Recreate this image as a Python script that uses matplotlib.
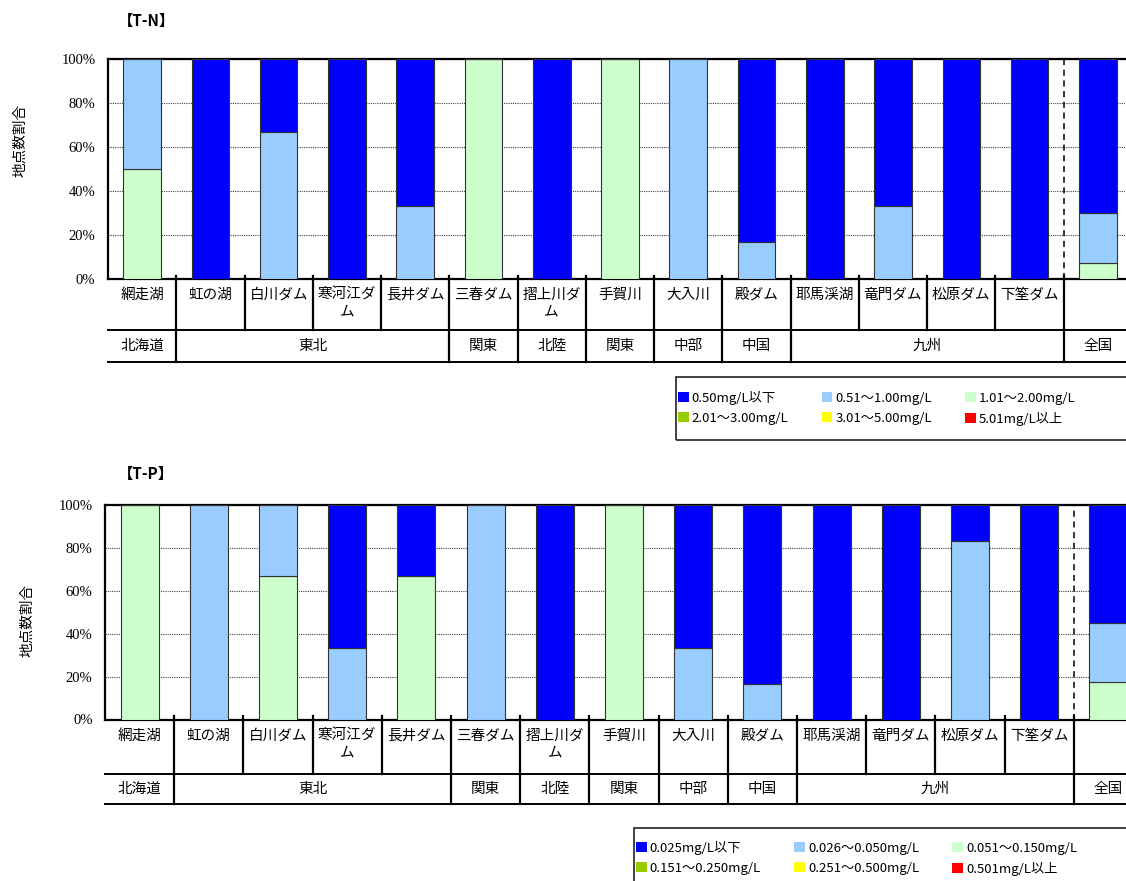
import matplotlib
matplotlib.use('Agg')
import matplotlib.pyplot as plt
import matplotlib.transforms as mtransforms
from matplotlib.patches import Patch, Rectangle

plt.rcParams['font.family'] = ['Noto Sans CJK JP', 'DejaVu Sans']

W, H = 1126, 881

lakes = ['網走湖', '虹の湖', '白川ダム', '寒河江ダ\nム', '長井ダム', '三春ダム', '摺上川ダ\nム',
         '手賀川', '大入川', '殿ダム', '耶馬渓湖', '竜門ダム', '松原ダム', '下筌ダム', '']
regions = ['北海道', '東北', '関東', '北陸', '関東', '中部', '中国', '九州', '全国']
region_first = [0, 1, 5, 6, 7, 8, 9, 10, 14]
region_last = [0, 4, 5, 6, 7, 8, 9, 13, 14]

colors = ['#0000FF', '#99CCFF', '#CCFFCC', '#99CC00', '#FFFF00', '#FF0000']

# T-N (%), classes from lowest concentration to highest
tn_labels = ['0.50mg/L以下', '0.51～1.00mg/L', '1.01～2.00mg/L',
             '2.01～3.00mg/L', '3.01～5.00mg/L', '5.01mg/L以上']
tn_c1 = [0, 100, 33.3, 100, 66.7, 0, 100, 0, 0, 83.3, 100, 66.7, 100, 100, 70.0]
tn_c2 = [50, 0, 66.7, 0, 33.3, 0, 0, 0, 100, 16.7, 0, 33.3, 0, 0, 22.6]
tn_c3 = [50, 0, 0, 0, 0, 100, 0, 100, 0, 0, 0, 0, 0, 0, 7.4]
tn_c4 = [0, 0, 0, 0, 0, 0, 0, 0, 0, 0, 0, 0, 0, 0, 0]
tn_c5 = [0, 0, 0, 0, 0, 0, 0, 0, 0, 0, 0, 0, 0, 0, 0]
tn_c6 = [0, 0, 0, 0, 0, 0, 0, 0, 0, 0, 0, 0, 0, 0, 0]

# T-P (%)
tp_labels = ['0.025mg/L以下', '0.026～0.050mg/L', '0.051～0.150mg/L',
             '0.151～0.250mg/L', '0.251～0.500mg/L', '0.501mg/L以上']
tp_c1 = [0, 0, 0, 66.7, 33.3, 0, 100, 0, 66.7, 83.3, 100, 100, 16.7, 100, 55.1]
tp_c2 = [0, 100, 33.3, 33.3, 0, 100, 0, 0, 33.3, 16.7, 0, 0, 83.3, 0, 27.6]
tp_c3 = [100, 0, 66.7, 0, 66.7, 0, 0, 100, 0, 0, 0, 0, 0, 0, 17.3]
tp_c4 = [0, 0, 0, 0, 0, 0, 0, 0, 0, 0, 0, 0, 0, 0, 0]
tp_c5 = [0, 0, 0, 0, 0, 0, 0, 0, 0, 0, 0, 0, 0, 0, 0]
tp_c6 = [0, 0, 0, 0, 0, 0, 0, 0, 0, 0, 0, 0, 0, 0, 0]


def rect(l, t, r, b):
    return [l / W, 1 - b / H, (r - l) / W, (b - t) / H]


def panel(fig, box, series, labels, title, title_xy, ylab_xy, row1, row2, leg_box, leg_xy):
    ax = fig.add_axes(rect(*box))
    h = box[3] - box[1]
    x = list(range(len(lakes)))

    # stack from the highest class at the bottom up to the lowest class
    bottom = [0] * len(x)
    for k in range(5, -1, -1):
        vals = series[k]
        ax.bar(x, vals, 0.55, bottom=bottom, color=colors[k],
               edgecolor='#333333', linewidth=0.8, zorder=3)
        bottom = [b + v for b, v in zip(bottom, vals)]

    ax.set_xlim(-0.5, len(x) - 0.5)
    ax.set_ylim(0, 100)
    ax.set_yticks([0, 20, 40, 60, 80, 100])
    ax.set_yticklabels(['0%', '20%', '40%', '60%', '80%', '100%'])
    for lbl in ax.get_yticklabels():
        lbl.set_fontfamily('Liberation Serif')
        lbl.set_fontsize(10.5)
    ax.set_xticks([])
    ax.tick_params(axis='y', length=0, pad=9)
    ax.yaxis.grid(True, linestyle=(0, (1, 1)), color='#444444', linewidth=0.8, zorder=0)
    for s in ['left', 'top', 'bottom']:
        ax.spines[s].set_linewidth(1.6)
    ax.spines['right'].set_visible(False)

    ax.axvline(13.5, color='black', linestyle=(0, (4, 3)), linewidth=1.1, zorder=4)

    # category table under the axis
    tr = mtransforms.blended_transform_factory(ax.transData, ax.transAxes)
    y1 = -row1 / h
    y2 = -row2 / h
    for yy in [y1, y2]:
        ax.plot([-0.5, len(x)], [yy, yy], color='black', linewidth=1.4,
                transform=tr, clip_on=False)
    for i in range(len(x) - 1):
        ax.plot([i + 0.5, i + 0.5], [0.015, y1], color='black', linewidth=1.6,
                transform=tr, clip_on=False)
    for last in region_last[:-1]:
        ax.plot([last + 0.5, last + 0.5], [y1, y2], color='black', linewidth=1.6,
                transform=tr, clip_on=False)
    for i, name in enumerate(lakes):
        ax.text(i, -9 / h, name, transform=tr, ha='center', va='top',
                fontsize=10.5, linespacing=1.25)
    for name, a, b in zip(regions, region_first, region_last):
        ax.text((a + b) / 2, (y1 + y2) / 2, name, transform=tr, ha='center',
                va='center', fontsize=10.5)

    fig.text(title_xy[0] / W, 1 - title_xy[1] / H, title, fontsize=11,
             fontweight='bold', va='center', ha='left')
    fig.text(ylab_xy[0] / W, 1 - ylab_xy[1] / H, '地点数割合', rotation=90,
             fontsize=10.5, ha='center', va='center')

    # legend: row-wise order for ncol=3
    order = [0, 3, 1, 4, 2, 5]
    leg_h = [Patch(facecolor=colors[k], edgecolor='none') for k in order]
    leg_l = [labels[k] for k in order]
    fig.legend(leg_h, leg_l, ncol=3, loc='upper left',
               bbox_to_anchor=(leg_xy[0] / W, 1 - leg_xy[1] / H),
               frameon=False, fontsize=9.5, handlelength=0.8, handleheight=0.8,
               handletextpad=0.25, columnspacing=2.5, borderpad=0,
               borderaxespad=0, labelspacing=0.5)
    l, t, r, b = leg_box
    fig.add_artist(Rectangle((l / W, 1 - b / H), (r - l) / W, (b - t) / H,
                             transform=fig.transFigure, fill=False,
                             edgecolor='#333333', linewidth=1.3))
    return ax


fig = plt.figure(figsize=(W / 100, H / 100), dpi=100)

panel(fig, (108, 59, 1132, 279), [tn_c1, tn_c2, tn_c3, tn_c4, tn_c5, tn_c6], tn_labels,
      '【T-N】', (118, 21), (20, 140), 51, 83, (676, 377, 1135, 440), (678, 391))

panel(fig, (105, 505, 1143, 719.5), [tp_c1, tp_c2, tp_c3, tp_c4, tp_c5, tp_c6], tp_labels,
      '【T-P】', (118, 474), (27, 620), 54, 84, (634, 828, 1135, 895), (636, 841))

fig.savefig('out.png', dpi=100)
